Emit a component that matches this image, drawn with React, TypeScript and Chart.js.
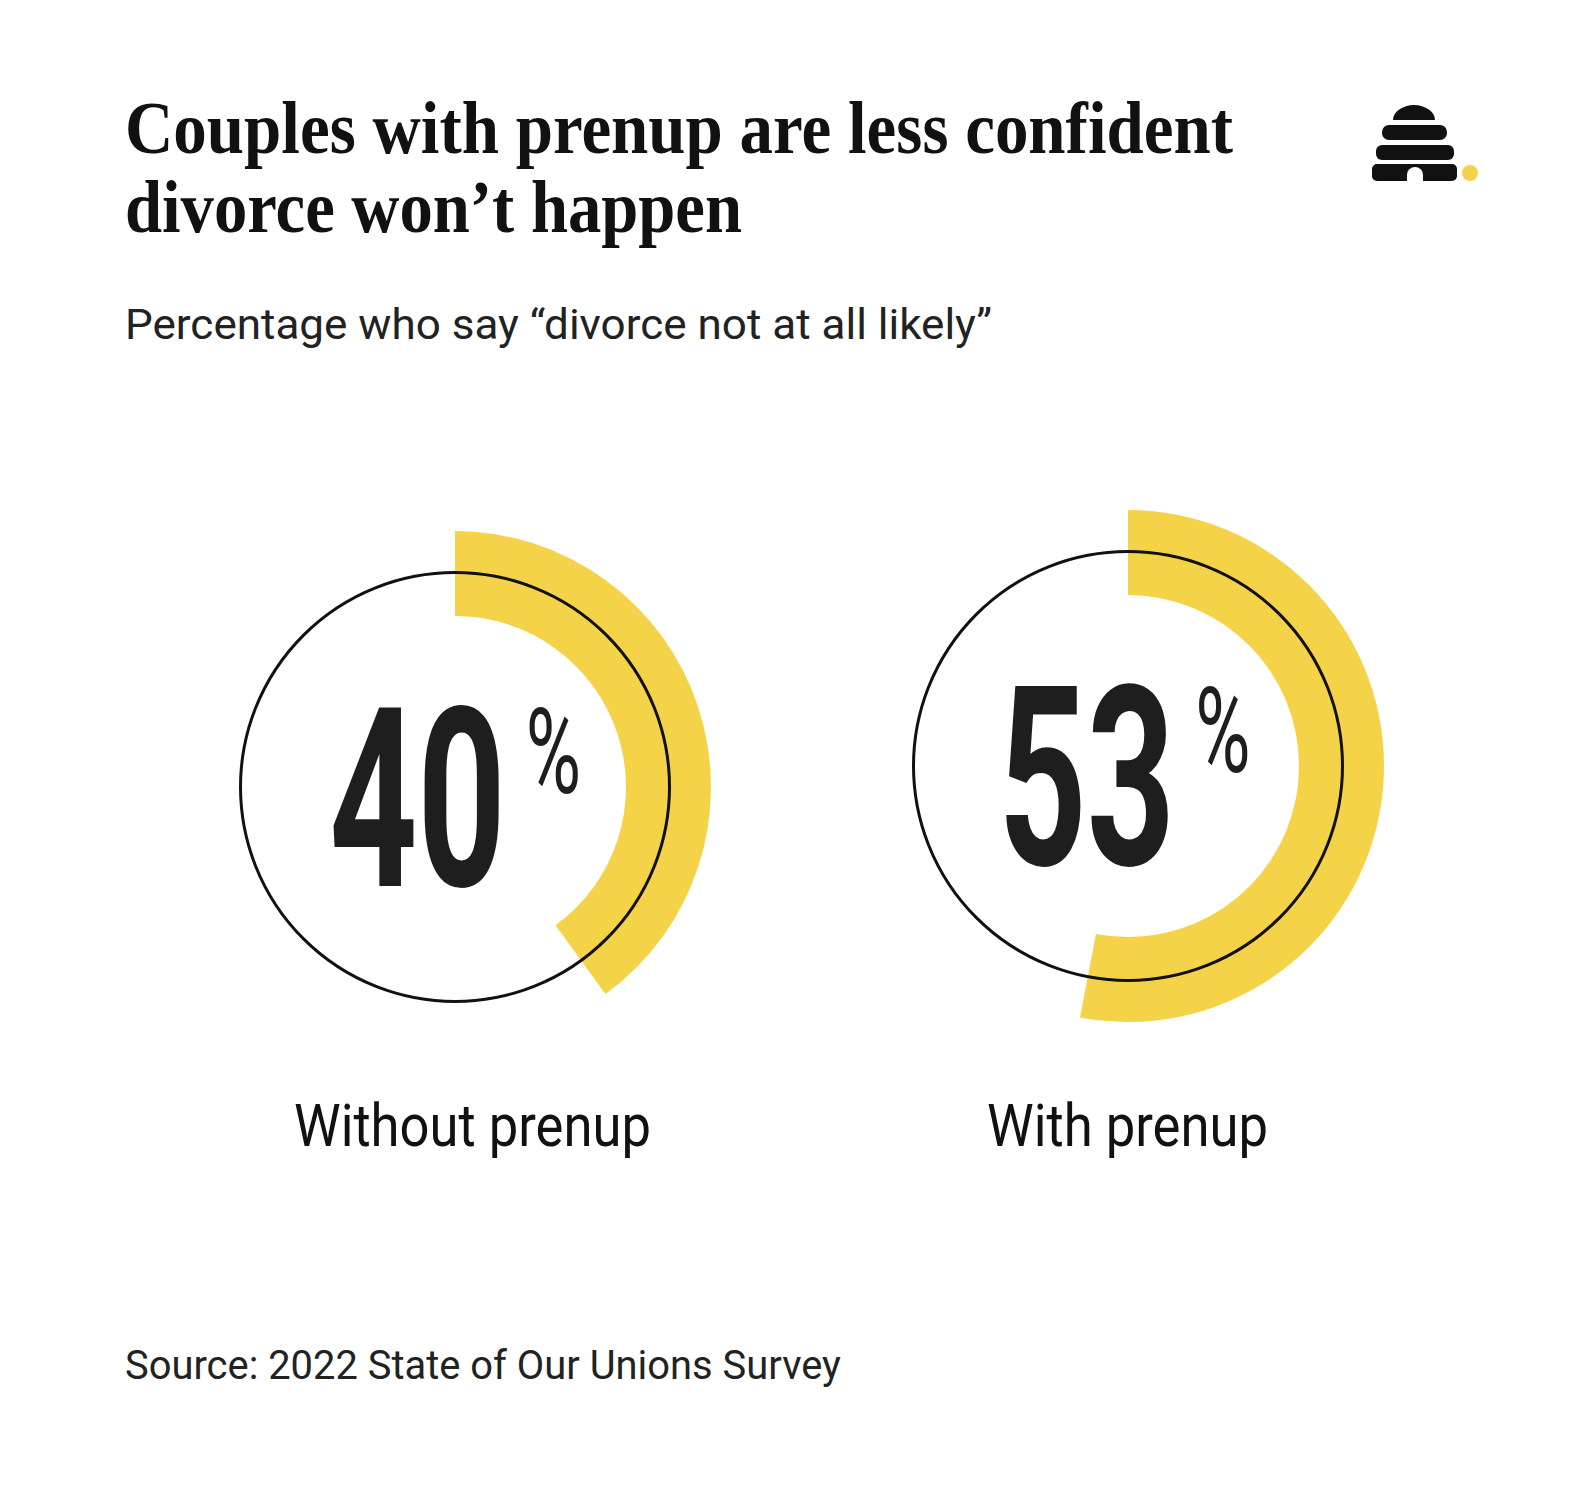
import React, { useEffect, useLayoutEffect, useRef } from "react";
import { Chart, registerables } from "chart.js";

Chart.register(...registerables);

// ---- data ----
const categories = ["Without prenup", "With prenup"];
const values = [40, 53];
const titleLines = ["Couples with prenup are less confident", "divorce won\u2019t happen"];
const subtitle = "Percentage who say \u201cdivorce not at all likely\u201d";
const source = "Source: 2022 State of Our Unions Survey";

// ---- style / layout ----
const YELLOW = "#F4D349";
const INK = "#1e1e1e";
const GAUGE_CENTERS = [
  { x: 455, y: 787 },
  { x: 1127.5, y: 766 },
];
const LABEL_CENTERS = [472, 1127.5];
const LABEL_WIDTHS = [357, 281];
const OUTER_R = 256;
const INNER_R = 171;
const RING_R = 214.5;
const CANVAS = 560;
const PAD = (CANVAS - 2 * OUTER_R) / 2;

type TxtProps = {
  text: string;
  x: number;
  baseline: number;
  size: number;
  family: string;
  weight?: number;
  color?: string;
  width?: number;
  center?: boolean;
  ascent: number;
  descent: number;
};

function Txt({ text, x, baseline, size, family, weight = 400, color = INK, width, center, ascent, descent }: TxtProps) {
  const ref = useRef<HTMLSpanElement>(null);
  useLayoutEffect(() => {
    const fit = () => {
      const el = ref.current;
      if (!el || !width) return;
      el.style.transform = "none";
      const w = el.getBoundingClientRect().width;
      if (w > 0) el.style.transform = `scaleX(${width / w})`;
    };
    fit();
    (document as any).fonts?.ready?.then(fit);
  }, []);
  const top = baseline - ((size - (ascent + descent) * size) / 2 + ascent * size);
  const left = center && width ? x - width / 2 : x;
  return (
    <span
      ref={ref}
      style={{
        position: "absolute",
        left,
        top,
        fontFamily: family,
        fontSize: size,
        fontWeight: weight,
        lineHeight: `${size}px`,
        color,
        whiteSpace: "nowrap",
        transformOrigin: "left center",
        display: "inline-block",
      }}
    >
      {text}
    </span>
  );
}

function makeCenterPlugin(value: number) {
  return {
    id: "centerText" + value,
    afterDatasetsDraw(chart: any) {
      const arc = chart.getDatasetMeta(0).data[0] as any;
      const cx = arc.x;
      const cy = arc.y;
      const ctx = chart.ctx as CanvasRenderingContext2D;
      ctx.save();
      // thin black ring
      ctx.beginPath();
      ctx.arc(cx, cy, RING_R, 0, Math.PI * 2);
      ctx.lineWidth = 3;
      ctx.strokeStyle = "#111";
      ctx.stroke();

      // big number
      const txt = String(value);
      ctx.fillStyle = INK;
      ctx.textAlign = "left";
      ctx.textBaseline = "alphabetic";
      ctx.font = "700 250px Roboto";
      const m = ctx.measureText(txt);
      const sx = 0.615;
      const left = cx - 122;
      const base = cy + 99;
      ctx.save();
      ctx.translate(left, base);
      ctx.scale(sx, 1);
      ctx.fillText(txt, m.actualBoundingBoxLeft, 0);
      ctx.restore();
      const right = left + sx * (m.actualBoundingBoxLeft + m.actualBoundingBoxRight);

      // percent sign
      ctx.font = "400 118px Roboto";
      const pm = ctx.measureText("%");
      const psx = 0.64;
      const pLeft = right + 31;
      const pBase = cy - 80 + pm.actualBoundingBoxAscent;
      ctx.save();
      ctx.translate(pLeft, pBase);
      ctx.scale(psx, 1);
      ctx.fillText("%", pm.actualBoundingBoxLeft, 0);
      ctx.restore();
      ctx.restore();
    },
  };
}

function Gauge({ value, cx, cy }: { value: number; cx: number; cy: number }) {
  const ref = useRef<HTMLCanvasElement>(null);
  useEffect(() => {
    const chart = new Chart(ref.current!, {
      type: "doughnut",
      data: {
        labels: ["value", "rest"],
        datasets: [
          {
            data: [value, 100 - value],
            backgroundColor: [YELLOW, "rgba(0,0,0,0)"],
            borderWidth: 0,
          },
        ],
      },
      options: {
        responsive: false,
        animation: false,
        events: [],
        cutout: `${(INNER_R / OUTER_R) * 100}%`,
        layout: { padding: PAD },
        plugins: { legend: { display: false }, tooltip: { enabled: false } },
      } as any,
      plugins: [makeCenterPlugin(value) as any],
    });
    return () => chart.destroy();
  }, [value]);
  return (
    <canvas
      ref={ref}
      width={CANVAS}
      height={CANVAS}
      style={{ position: "absolute", left: cx - CANVAS / 2, top: cy - CANVAS / 2, width: CANVAS, height: CANVAS }}
    />
  );
}

function Logo() {
  return (
    <svg
      width={120}
      height={100}
      viewBox="0 0 120 100"
      style={{ position: "absolute", left: 1360, top: 95 }}
    >
      <path d="M33 25 A21 15 0 0 1 75 25 Z" fill="#111" />
      <rect x={22} y={30} width={65} height={15} rx={7} fill="#111" />
      <rect x={16} y={50} width={78} height={15} rx={6} fill="#111" />
      <rect x={12} y={69} width={85} height={17} rx={5} fill="#111" />
      <path d="M47 86 L47 80 A8 8 0 0 1 63 80 L63 86 Z" fill="#fff" />
      <circle cx={110} cy={78} r={8} fill={YELLOW} />
    </svg>
  );
}

const SERIF = "'Liberation Serif', 'DejaVu Serif', serif";
const SANS = "Roboto, 'Liberation Sans', sans-serif";

export default function App() {
  return (
    <div
      style={{
        position: "absolute",
        left: 0,
        top: 0,
        width: 1582,
        height: 1492,
        background: "#fff",
        overflow: "hidden",
      }}
    >
      <Txt text={titleLines[0]} x={125} baseline={153.5} size={73} family={SERIF} weight={700} color="#111" width={1108} ascent={0.891} descent={0.216} />
      <Txt text={titleLines[1]} x={125} baseline={232} size={73} family={SERIF} weight={700} color="#111" width={617} ascent={0.891} descent={0.216} />
      <Txt text={subtitle} x={125} baseline={339} size={43} family={SANS} color="#222" width={867} ascent={0.9277} descent={0.2441} />
      <Logo />
      {values.map((v, i) => (
        <Gauge key={categories[i]} value={v} cx={GAUGE_CENTERS[i].x} cy={GAUGE_CENTERS[i].y} />
      ))}
      {categories.map((c, i) => (
        <Txt key={c} text={c} x={LABEL_CENTERS[i]} baseline={1146} size={59} family={SANS} color="#111" width={LABEL_WIDTHS[i]} center ascent={0.9277} descent={0.2441} />
      ))}
      <Txt text={source} x={125} baseline={1380} size={41} family={SANS} color="#222" width={716} ascent={0.9277} descent={0.2441} />
    </div>
  );
}
